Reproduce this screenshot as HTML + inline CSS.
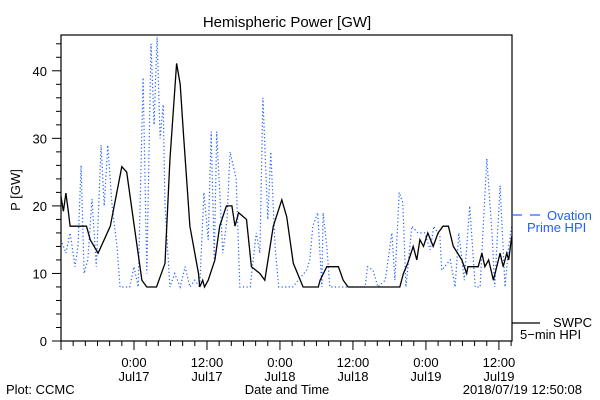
<!DOCTYPE html>
<html><head><meta charset="utf-8"><style>
body{margin:0;background:#fff;}
svg{display:block;font-family:"Liberation Sans",sans-serif;}
</style></head><body>
<svg id="chart" width="600" height="400" viewBox="0 0 600 400" xmlns="http://www.w3.org/2000/svg">
<rect width="600" height="400" fill="#fff"/>
<text x="287" y="27" font-size="15" text-anchor="middle" fill="#000">Hemispheric Power [GW]</text>
<text x="20" y="190" font-size="13" text-anchor="middle" fill="#000" transform="rotate(-90 20 190)">P [GW]</text>
<g id="axes"></g>
<g id="series"></g>
<rect x="61" y="35" width="451" height="306" fill="none" stroke="#000" stroke-width="1.2"/>
<line x1="512" y1="215" x2="522" y2="215" stroke="#1f5fff" stroke-width="1.2"/>
<line x1="530" y1="215" x2="540" y2="215" stroke="#1f5fff" stroke-width="1.2"/>
<text fill="#1f5fff" font-size="13"><tspan x="547" y="220">Ovation</tspan><tspan x="527" y="232">Prime HPI</tspan></text>
<line x1="512" y1="323" x2="540" y2="323" stroke="#000" stroke-width="1.2"/>
<text fill="#000" font-size="13"><tspan x="553" y="327">SWPC</tspan><tspan x="520" y="339">5−min HPI</tspan></text>
<text x="287" y="394" font-size="13" text-anchor="middle">Date and Time</text>
<text x="6" y="394" font-size="13">Plot: CCMC</text>
<text x="582" y="394" font-size="13" text-anchor="end">2018/07/19 12:50:08</text>
</svg>
<script>
// hours relative to 2018-07-17 00:00
const hpiHours=[-12.0,-11.6,-11.2,-10.8,-10.5,-7.8,-7.2,-5.9,-3.9,-2.0,-1.2,0.2,1.3,2.1,3.7,5.1,5.9,7.0,7.6,8.1,9.2,10.6,10.8,11.3,11.6,12.2,13.3,14.1,15.2,16.1,16.6,17.2,18.5,19.3,20.7,21.5,22.9,24.3,25.1,26.2,27.8,30.3,30.6,31.7,33.6,34.4,35.2,43.7,44.3,45.0,45.9,46.5,47.0,47.6,48.3,49.2,50.0,50.8,51.7,52.5,53.9,54.7,54.9,56.6,57.2,57.7,58.3,59.1,60.2,60.7,61.3,61.6,62.1];
const hpiValues=[21.4,19.2,21.9,19.2,17,17,15,13,17,25.8,25,16,9,8,8,11.5,26.8,41.1,38,31,17,10,8,9,8,9,12,17,20,20,17,19,18,11,10,9,17,20.9,18.4,11.5,8,8,9,11,11,9,8,8,10,11.5,14,12,15,14,16,14,16,17,17,14,12,10,11,11,13,11,12,9,13,11,13,12,15.5];
const ovHours=[-12,-11.2,-10.5,-9.7,-9.2,-8.7,-8.2,-7.6,-6.9,-6.2,-5.4,-4.9,-4.3,-3.6,-2.8,-2.3,-0.7,0,0.7,1.5,2.1,2.8,3.3,3.8,4.3,4.8,5.1,5.9,6.7,7.6,8.4,9.2,10.0,10.8,11.5,12.2,12.7,13.2,13.6,14.6,15.3,15.8,16.8,17.4,19.1,20.1,20.7,21.2,22.0,22.5,23.2,23.8,26.1,28.4,28.9,29.4,30.2,30.9,31.1,31.7,32.2,38.0,38.4,39.3,40.1,41.3,42.4,42.9,43.6,44.2,44.7,45.7,46.7,47.8,48.7,49.3,50.3,50.6,52.0,52.8,53.4,54.3,55.2,56.1,56.9,58.0,58.9,59.3,60.2,61.0,61.6,62.1];
const ovValues=[15,13,16,11,14,26,10,12,21,11,29,20,29,20,14,8,8,11,8,39,10,44,32,45,30,35,20,8,10,8,11,8,9,8,22,15,31,12,31,13,18,28,24,8,8,16,13,36,18,28,14,8,8,10.5,12,17,19,8,19,14,8,8,11,10.5,8,9,16,9,22,20.5,8,17,16,16,13.5,17,15.5,10.5,12,8,16,9,20,8,8,27,15.5,8,23,8,14,17];
const yTickValues=[0,10,20,30,40];
const xTickHours=[0,12,24,36,48,60];
const xTickTimes=["0:00","12:00","0:00","12:00","0:00","12:00"];
const xTickDates=["Jul17","Jul17","Jul18","Jul18","Jul19","Jul19"];

const NS="http://www.w3.org/2000/svg";
const L=61,R=512,T=35,B=341;
const xMin=-12,xMax=62.15,yMin=0,yMax=45.3;
function xs(h){return L+(h-xMin)/(xMax-xMin)*(R-L);}
function ys(v){return B-(v-yMin)/(yMax-yMin)*(B-T);}
function mk(tag,attrs,parent){const e=document.createElementNS(NS,tag);for(const k in attrs)e.setAttribute(k,attrs[k]);parent.appendChild(e);return e;}
const axes=document.getElementById('axes');
for(let v=0;v<=45;v+=2){
  const major=v%10===0;
  const t=mk('line',{x1:major?52:56,x2:L,y1:ys(v),y2:ys(v),stroke:'#000','stroke-width':1},axes);
  
  
}
yTickValues.forEach(v=>{
  const t=mk('text',{x:47,y:ys(v)+5,'font-size':13,'text-anchor':'end'},axes);
  t.textContent=String(v);
  
  
});
for(let h=-12;h<=62;h+=2){
  const major=h%12===0;
  const t=mk('line',{x1:xs(h),x2:xs(h),y1:B,y2:major?350:346,stroke:'#000','stroke-width':1},axes);
  
  
}
xTickHours.forEach((h,i)=>{
  const t=mk('text',{x:xs(h),y:367,'font-size':13,'text-anchor':'middle'},axes);
  t.textContent=xTickTimes[i];
  
  
  const d=mk('text',{x:xs(h),y:381,'font-size':13,'text-anchor':'middle'},axes);
  d.textContent=xTickDates[i];
  
  
});
const series=document.getElementById('series');
const ovPts=ovHours.map((h,i)=>xs(h).toFixed(1)+','+ys(ovValues[i]).toFixed(1)).join(' ');
const ov=mk('polyline',{points:ovPts,fill:'none',stroke:'#1f5fff','stroke-width':1.2,'stroke-dasharray':'1.2 2.4'},series);


const hpPts=hpiHours.map((h,i)=>xs(h).toFixed(1)+','+ys(hpiValues[i]).toFixed(1)).join(' ');
const hl=mk('polyline',{points:hpPts,fill:'none',stroke:'#000','stroke-width':1.3},series);


</script>
</body></html>
